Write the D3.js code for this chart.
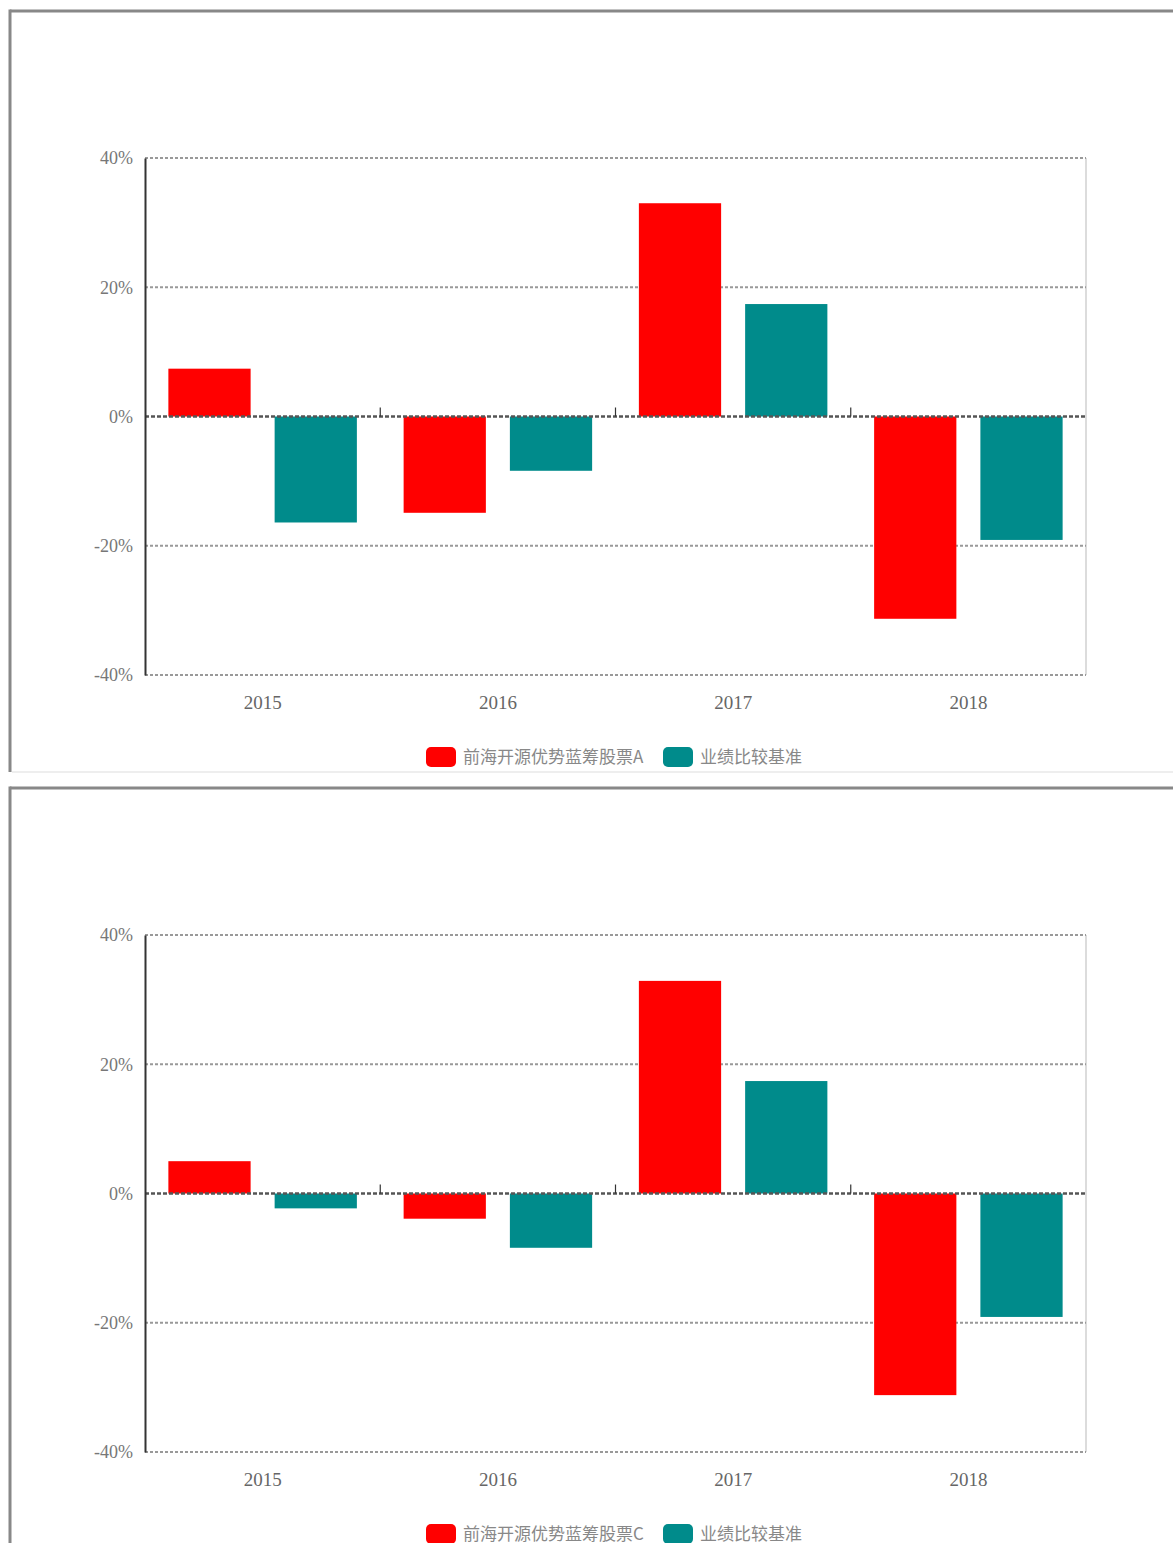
<!DOCTYPE html>
<html><head><meta charset="utf-8">
<script src="https://cdn.jsdelivr.net/npm/d3@7"></script>
<style>
html,body{margin:0;padding:0;background:#fff;}
svg{display:block;}
text{font-family:"Liberation Serif","DejaVu Serif","Noto Sans CJK SC",serif;}
</style></head>
<body>
<svg id="c" width="1173" height="1543"></svg>
<script>
const categories = ["2015","2016","2017","2018"];
const yTicks = [-40,-20,0,20,40];
const fundAValues = [7.4,-14.9,33.0,-31.3];
const benchAValues = [-16.4,-8.4,17.4,-19.1];
const fundCValues = [5.0,-3.9,32.9,-31.2];
const benchCValues = [-2.3,-8.4,17.4,-19.1];
const fundAName = "前海开源优势蓝筹股票A";
const fundCName = "前海开源优势蓝筹股票C";
const benchName = "业绩比较基准";
const colors = ["#ff0000","#008b8b"];

const svg = d3.select("#c");

function panelFrame(top, bottom){
  const g = svg.append("g");
  g.append("line").attr("x1",10).attr("x2",1173).attr("y1",top).attr("y2",top)
    .attr("stroke","#888").attr("stroke-width",3);
  g.append("line").attr("x1",10).attr("x2",10).attr("y1",top-1.5).attr("y2",bottom)
    .attr("stroke","#888").attr("stroke-width",3);
  if(bottom < 1543){
    g.append("line").attr("x1",12).attr("x2",1173).attr("y1",bottom).attr("y2",bottom)
      .attr("stroke","#eeeeee").attr("stroke-width",2);
  }
}

function drawPanel(dy, fundVals, benchVals, fundName){
  const left=145, right=1086, top=158+dy, bottom=675+dy;
  const g = svg.append("g");
  const y = d3.scaleLinear().domain([-40,40]).range([bottom, top]);
  const x0 = d3.scaleBand().domain(categories).range([left,right]).paddingInner(0).paddingOuter(0);
  const x1 = d3.scaleBand().domain([0,1]).range([0,x0.bandwidth()]).paddingInner(0.226).paddingOuter(0.22);

  g.append("line").attr("x1",right).attr("x2",right).attr("y1",top).attr("y2",bottom)
    .attr("stroke","#d0d0d0").attr("stroke-width",1.5);

  yTicks.filter(t=>t!==0).forEach(t=>{
    g.append("line").attr("x1",left).attr("x2",right).attr("y1",y(t)).attr("y2",y(t))
      .attr("stroke","#999").attr("stroke-width",2).attr("stroke-dasharray","3,2");
  });

  const series = [fundVals, benchVals];
  categories.forEach((c,i)=>{
    series.forEach((vals,s)=>{
      const v = vals[i];
      g.append("rect")
        .attr("x", x0(c)+x1(s))
        .attr("width", x1.bandwidth())
        .attr("y", y(Math.max(0,v)))
        .attr("height", Math.abs(y(v)-y(0)))
        .attr("fill", colors[s]);
    });
  });

  g.append("line").attr("x1",left).attr("x2",right).attr("y1",y(0)).attr("y2",y(0))
    .attr("stroke","#555").attr("stroke-width",2.5).attr("stroke-dasharray","4,2");

  categories.slice(1).forEach(c=>{
    g.append("line").attr("x1",x0(c)).attr("x2",x0(c)).attr("y1",y(0)).attr("y2",y(0)-9)
      .attr("stroke","#333").attr("stroke-width",1.2);
  });

  const ya = g.append("g").attr("transform",`translate(${left},0)`)
    .call(d3.axisLeft(y).tickValues(yTicks).tickSize(0).tickPadding(12)
      .tickFormat(d=>(d<0?"-"+Math.abs(d):d)+"%"));
  ya.select(".domain").attr("stroke","#333").attr("stroke-width",2);
  ya.selectAll("text").attr("fill","#777").style("font-size","18px")
    .style("font-family",'"Liberation Serif","DejaVu Serif",serif');

  const xa = g.append("g").attr("transform",`translate(0,${bottom})`)
    .call(d3.axisBottom(x0).tickSize(0).tickPadding(21));
  xa.select(".domain").remove();
  xa.selectAll("text").attr("fill","#666").style("font-size","19px")
    .style("font-family",'"Liberation Serif","DejaVu Serif",serif');

  const ly = 757+dy;
  const items = [{name:fundName,color:colors[0],x:426,tx:463},{name:benchName,color:colors[1],x:663,tx:700}];
  items.forEach(it=>{
    g.append("rect").attr("x",it.x).attr("y",ly-10).attr("width",30).attr("height",20).attr("rx",5)
      .attr("fill",it.color);
    g.append("text").attr("x",it.tx).attr("y",ly).attr("dy","0.35em")
      .attr("fill","#888").style("font-size","17px")
      .style("font-family",'"Noto Sans CJK SC","Liberation Serif",serif')
      .text(it.name);
  });
}

panelFrame(11, 772);
panelFrame(788, 1545);
drawPanel(0, fundAValues, benchAValues, fundAName);
drawPanel(777, fundCValues, benchCValues, fundCName);
</script>
</body></html>
